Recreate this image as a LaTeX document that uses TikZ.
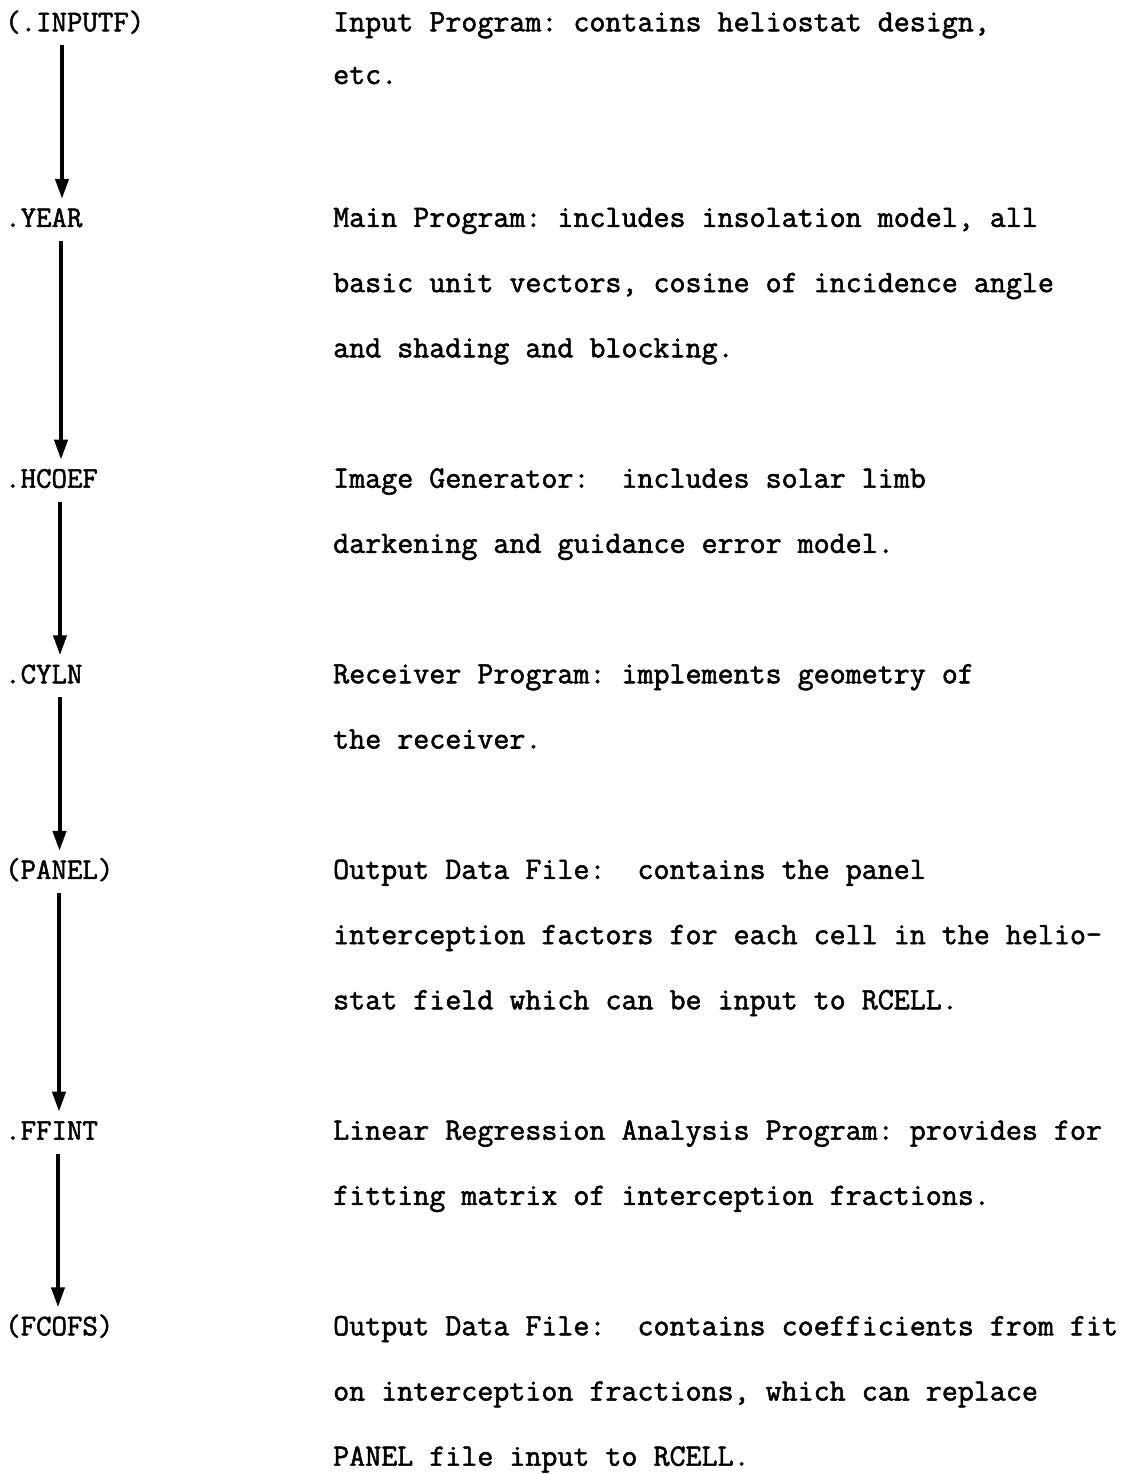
\documentclass[tikz,border=0pt]{standalone}
\usepackage{fontspec}
\newfontfamily\tw{Latin Modern Mono}[FakeBold=1.7]
\usetikzlibrary{arrows.meta}
\tikzset{
  lbl/.style={anchor=base west, inner sep=0pt, outer ysep=9pt, text height=19pt, text depth=5pt,
    font=\tw\frenchspacing\fontsize{30}{30}\selectfont},
  txt/.style={anchor=base west, inner sep=0pt,
    font=\tw\frenchspacing\fontsize{31.1}{32}\selectfont},
  arr/.style={line width=4pt, -{Triangle[length=20pt,width=13pt]}}
}
\begin{document}
\begin{tikzpicture}[x=1pt,y=-1pt]
\useasboundingbox (0,0) rectangle (1137,1474);
% left column labels
\node[lbl] (inputf) at (5,31.3)   {(.INPUTF)};
\node[lbl] (year)   at (5,226.9)  {.YEAR};
\node[lbl] (hcoef)  at (5,487.7)  {.HCOEF};
\node[lbl] (cyln)   at (5,683.3)  {.CYLN};
\node[lbl] (panel)  at (5,878.9)  {(PANEL)};
\node[lbl] (ffint)  at (5,1139.7) {.FFINT};
\node[lbl] (fcofs)  at (5,1335.3) {(FCOFS)};
% arrow columns
\coordinate (x1) at (62,0);
\coordinate (x2) at (61,0);
\coordinate (x3) at (60,0);
\coordinate (x4) at (59.5,0);
\coordinate (x5) at (59,0);
\coordinate (x6) at (58,0);
\draw[arr] (inputf.south -| x1) -- (year.north -| x1);
\draw[arr] (year.south -| x2) -- (hcoef.north -| x2);
\draw[arr] (hcoef.south -| x3) -- (cyln.north -| x3);
\draw[arr] (cyln.south -| x4) -- (panel.north -| x4);
\draw[arr] (panel.south -| x5) -- (ffint.north -| x5);
\draw[arr] (ffint.south -| x6) -- (fcofs.north -| x6);
% right column descriptions
\node[txt] (d1a) at (333,31.3)   {Input Program: contains heliostat design,};
\node[txt] (d1b) at (333,84)     {etc.};
\node[txt] (d2a) at (333,226.9)  {Main Program: includes insolation model, all};
\node[txt] (d2b) at (333,292.1)  {basic unit vectors, cosine of incidence angle};
\node[txt] (d2c) at (333,357.3)  {and shading and blocking.};
\node[txt] (d3a) at (333,487.7)  {Image Generator:~~includes solar limb};
\node[txt] (d3b) at (333,552.9)  {darkening and guidance error model.};
\node[txt] (d4a) at (333,683.3)  {Receiver Program: implements geometry of};
\node[txt] (d4b) at (333,748.5)  {the receiver.};
\node[txt] (d5a) at (333,878.9)  {Output Data File:~~contains the panel};
\node[txt] (d5b) at (333,944.1)  {interception factors for each cell in the helio-};
\node[txt] (d5c) at (333,1009.3) {stat field which can be input to RCELL.};
\node[txt] (d6a) at (333,1139.7) {Linear Regression Analysis Program: provides for};
\node[txt] (d6b) at (333,1204.9) {fitting matrix of interception fractions.};
\node[txt] (d7a) at (333,1335.3) {Output Data File:~~contains coefficients from fit};
\node[txt] (d7b) at (333,1400.5) {on interception fractions, which can replace};
\node[txt] (d7c) at (333,1465.7) {PANEL file input to RCELL.};
\end{tikzpicture}
\end{document}
